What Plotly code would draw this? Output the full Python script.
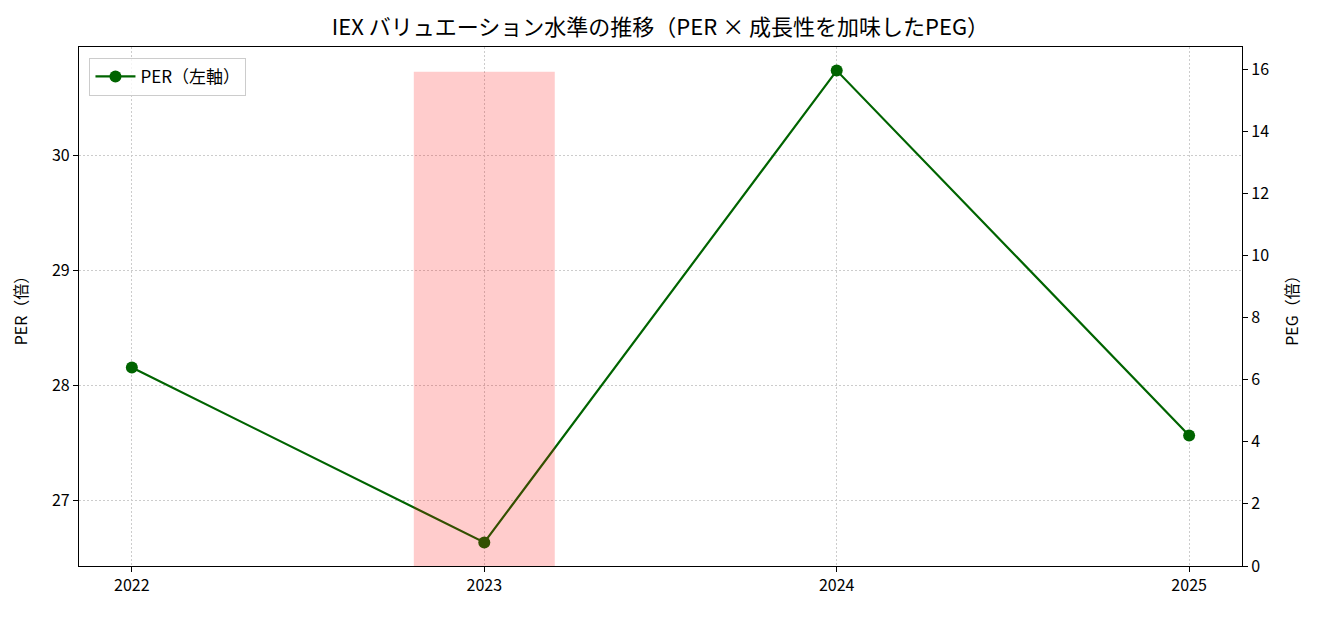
import plotly.graph_objects as go

years = [2022, 2023, 2024, 2025]
per_values = [28.156, 26.636, 30.737, 27.566]
peg_values = [None, 15.91, None, None]
x_ticks = [2022, 2023, 2024, 2025]
x_tick_labels = ["2022", "2023", "2024", "2025"]
per_ticks = [27, 28, 29, 30]
peg_ticks = [0, 2, 4, 6, 8, 10, 12, 14, 16]

FONT = "Noto Sans CJK JP"
GRID = "#cccccc"

fig = go.Figure()
fig.add_trace(go.Scatter(
    x=years, y=per_values, mode="lines+markers", name="PER（左軸）",
    line=dict(color="#006400", width=2.2),
    marker=dict(color="#006400", size=12),
    yaxis="y",
))
fig.add_trace(go.Bar(
    x=years, y=peg_values, width=0.4, name="PEG",
    marker=dict(color="rgba(255,0,0,0.2)", line=dict(width=0)),
    showlegend=False, yaxis="y2",
))

W, H = 1304, 601
fig.update_layout(
    width=W, height=H,
    margin=dict(l=71, r=70, t=39, b=43),
    plot_bgcolor="white", paper_bgcolor="white",
    font=dict(family=FONT, size=16, color="black"),
    title=dict(text="IEX バリュエーション水準の推移（PER × 成長性を加味したPEG）",
               x=0.5, xanchor="center", xref="paper", y=1 - 19 / H, yanchor="middle",
               font=dict(family=FONT, size=22, color="black")),
    xaxis=dict(range=[2021.85, 2025.15], tickvals=x_ticks, ticktext=x_tick_labels,
               showline=True, linecolor="black", linewidth=1.3, mirror=True,
               ticks="outside", ticklen=5, tickcolor="black",
               tickfont=dict(size=16),
               showgrid=True, gridcolor=GRID, griddash="1.5px,2.5px", gridwidth=1,
               zeroline=False),
    yaxis=dict(range=[26.431, 30.942], tickvals=per_ticks,
               title=dict(text="PER（倍）", standoff=20, font=dict(size=16)),
               tickfont=dict(size=16),
               showline=True, linecolor="black", linewidth=1.3,
               ticks="outside", ticklen=5, tickcolor="black",
               showgrid=True, gridcolor=GRID, griddash="1.5px,2.5px", gridwidth=1,
               zeroline=False),
    yaxis2=dict(range=[0, 16.71], tickvals=peg_ticks, overlaying="y", side="right",
                title=dict(text="PEG（倍）", standoff=18, font=dict(size=16)),
                tickfont=dict(size=16),
                showline=True, linecolor="black", linewidth=1.3,
                ticks="outside", ticklen=5, tickcolor="black",
                showgrid=False, zeroline=False),
    legend=dict(x=0.009, y=0.979, xanchor="left", yanchor="top",
                bgcolor="rgba(255,255,255,0.8)", bordercolor="#cccccc", borderwidth=1,
                font=dict(family=FONT, size=17), itemwidth=40),
    showlegend=True,
)

fig.write_html("out.html")
